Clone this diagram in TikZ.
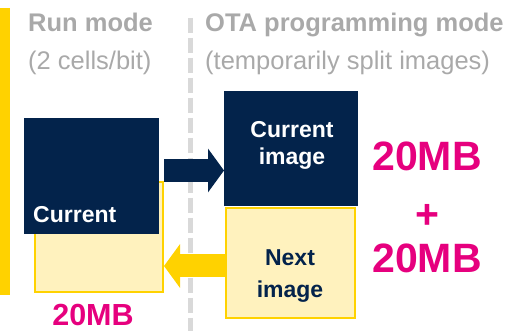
\documentclass[tikz,border=0pt]{standalone}
\usepackage{fontspec}
\setmainfont{Liberation Sans}
\usetikzlibrary{arrows.meta}
\definecolor{navy}{HTML}{03234B}
\definecolor{styellow}{HTML}{FFD200}
\definecolor{ltyellow}{HTML}{FFF2BE}
\definecolor{magenta}{HTML}{E6007E}
\definecolor{headgray}{HTML}{A9A9A9}
\definecolor{dashgray}{HTML}{D9D9D9}
\tikzset{
  navybox/.style={rectangle, fill=navy, inner sep=0pt, anchor=north west},
  yelbox/.style={rectangle, fill=ltyellow, draw=styellow, line width=2pt, inner sep=0pt, anchor=north west},
  boxtext/.style={font=\fontsize{23}{30}\selectfont\bfseries, anchor=base, inner sep=0pt},
  headbold/.style={text=headgray, font=\fontsize{25.5}{30}\selectfont\bfseries, anchor=base west, inner sep=0pt},
  headreg/.style={text=headgray, font=\fontsize{25.5}{30}\selectfont, anchor=base west, inner sep=0pt},
  sizetext/.style={text=magenta, font=\fontsize{41}{46}\selectfont\bfseries, anchor=base, inner sep=0pt},
  blockarrow/.style={line width=23pt, -{Triangle[length=16pt,width=43pt]}},
}
\begin{document}
\begin{tikzpicture}[x=1pt,y=-1pt]
\useasboundingbox (0,0) rectangle (528,331);
% left yellow bar
\fill[styellow] (0,8) rectangle (10,295);
% dashed separator
\coordinate (septop) at (190,18);
\coordinate (sepbot) at (190,331);
\draw[dashgray, line width=5pt, dash pattern=on 15pt off 5pt] (septop) -- (sepbot);
% headings
\node[headbold] (runmode) at (28,32) {Run mode};
\node[headreg] (cells) at (28,70) {(2 cells/bit)};
\node[headbold] (otamode) at (205,32) {OTA programming mode};
\node[headreg] (split) at (205,70) {(temporarily split images)};
% left boxes
\node[yelbox, minimum width=128pt, minimum height=110pt] (lyel) at (34,181) {};
\node[navybox, minimum width=135pt, minimum height=116pt] (lnavy) at (24,118) {};
\node[boxtext, text=white, anchor=base west] (lcur) at (33,223) {Current};
\node[sizetext, font=\fontsize{30.5}{36}\selectfont\bfseries] (lsize) at (93,325.5) {20MB};
% right boxes
\node[navybox, minimum width=134pt, minimum height=115pt] (rnavy) at (224,91) {};
\node[boxtext, text=white] (rcur1) at (292,138) {Current};
\node[boxtext, text=white] (rcur2) at (292,165) {image};
\node[yelbox, minimum width=129pt, minimum height=110pt] (ryel) at (225,207) {};
\node[boxtext, text=navy] (rnext1) at (290,266) {Next};
\node[boxtext, text=navy] (rnext2) at (290,298) {image};
% sizes
\node[sizetext] (size1) at (427,171) {20MB};
\node[sizetext] (plus) at (427,229) {+};
\node[sizetext] (size2) at (427,273) {20MB};
% arrows
\draw[blockarrow, navy] (lyel.east |- 0,170.5) -- (rnavy.west |- 0,170.5);
\draw[blockarrow, styellow] (ryel.west |- 0,266) -- (lyel.east |- 0,266);
\end{tikzpicture}
\end{document}
